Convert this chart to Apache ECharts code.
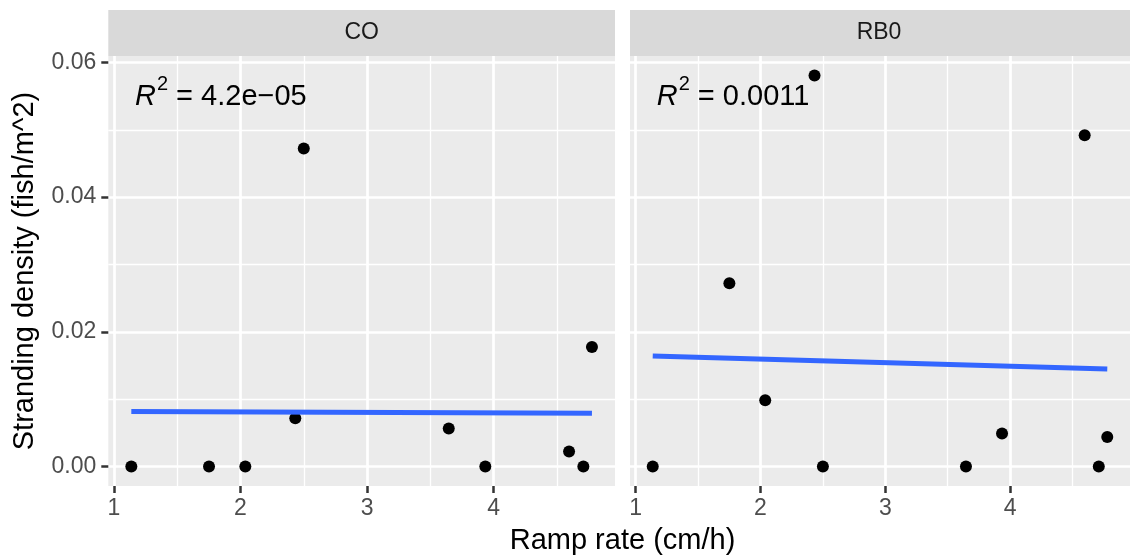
<!DOCTYPE html>
<html>
<head>
<meta charset="utf-8">
<script src="https://cdn.jsdelivr.net/npm/echarts@6/dist/echarts.min.js"></script>
<style>
  html, body { margin: 0; padding: 0; background: #ffffff; }
  #chart { width: 1130px; height: 557px; }
</style>
</head>
<body>
<div id="chart"></div>
<script>
// Ramp rate of each flow event (cm/h); the same events are shown for both sites
const rampRate = [1.137, 1.751, 2.038, 2.433, 2.500, 3.646, 3.935, 4.597, 4.710, 4.778];

// Stranding density (fish/m^2) per site
const densityCO  = [0, 0, 0, 0.00717, 0.04724, 0.00564, 0, 0.00223, 0, 0.01775];
const densityRB0 = [0, 0.0272, 0.00984, 0.05806, 0, 0, 0.0049, 0.0492, 0, 0.00439];

// Linear fit end points for each site
const fitCO  = [[1.137, 0.00815], [4.778, 0.00790]];
const fitRB0 = [[1.137, 0.01641], [4.778, 0.01448]];

// Facet names and fit statistics
const sites = ['CO', 'RB0'];
const r2Text = ['4.2e\u221205', '0.0011'];

// Axis breaks
const xTicks = [1, 2, 3, 4];
const xMinor = [1.5, 2.5, 3.5, 4.5];
const yTicks = [0, 0.02, 0.04, 0.06];
const yMinor = [0.01, 0.03, 0.05];

const FONT = "'Liberation Sans', Arial, Helvetica, sans-serif";

// Panel limits: data range widened by 5% on each side
function expand(values) {
  const lo = Math.min(...values), hi = Math.max(...values);
  const pad = (hi - lo) * 0.05;
  return [lo - pad, hi + pad];
}
const xLim = expand(rampRate);
const yLim = expand(densityCO.concat(densityRB0));

const densities = [densityCO, densityRB0];
const fits = [fitCO, fitRB0];

// Panel geometry (pixels)
const panelLeft = [108.3, 630];
const panelTop = 56;
const panelW = 506.7;
const panelH = 430;
const stripTop = 10;
const stripTextX = [361.7, 879];

const grids = [], xAxes = [], yAxes = [], series = [], graphics = [];

sites.forEach((site, i) => {
  grids.push({
    left: panelLeft[i], top: panelTop, width: panelW, height: panelH,
    show: true, backgroundColor: '#ebebeb', borderWidth: 0
  });

  // major x axis: ticks, labels, major grid lines
  xAxes.push({
    type: 'value', gridIndex: i, min: xLim[0], max: xLim[1], position: 'bottom',
    axisLine: { show: false, onZero: false },
    axisTick: { show: true, length: 7, customValues: xTicks,
                lineStyle: { color: '#333333', width: 2.5 } },
    axisLabel: { show: true, customValues: xTicks, margin: 11,
                 fontSize: 23, color: '#4d4d4d', fontFamily: FONT },
    splitLine: { show: true, lineStyle: { color: '#ffffff', width: 2.7 } }
  });
  // minor x grid lines
  xAxes.push({
    type: 'value', gridIndex: i, min: xLim[0], max: xLim[1], position: 'bottom',
    axisLine: { show: false, onZero: false },
    axisTick: { show: false, customValues: xMinor },
    axisLabel: { show: false },
    splitLine: { show: true, lineStyle: { color: '#ffffff', width: 1.35 } }
  });

  // major y axis
  yAxes.push({
    type: 'value', gridIndex: i, min: yLim[0], max: yLim[1], position: 'left',
    axisLine: { show: false, onZero: false },
    axisTick: { show: i === 0, length: 7, customValues: yTicks,
                lineStyle: { color: '#333333', width: 2.5 } },
    axisLabel: { show: i === 0, customValues: yTicks, margin: 12,
                 fontSize: 23, color: '#4d4d4d', fontFamily: FONT,
                 formatter: v => v.toFixed(2) },
    splitLine: { show: true, lineStyle: { color: '#ffffff', width: 2.7 } }
  });
  // minor y grid lines
  yAxes.push({
    type: 'value', gridIndex: i, min: yLim[0], max: yLim[1], position: 'left',
    axisLine: { show: false, onZero: false },
    axisTick: { show: false, customValues: yMinor },
    axisLabel: { show: false },
    splitLine: { show: true, lineStyle: { color: '#ffffff', width: 1.35 } }
  });

  series.push({
    type: 'scatter', xAxisIndex: 2 * i, yAxisIndex: 2 * i,
    data: rampRate.map((x, k) => [x, densities[i][k]]),
    symbol: 'circle', symbolSize: 12,
    itemStyle: { color: '#000000', opacity: 1 }, z: 3, silent: true
  });
  series.push({
    type: 'line', xAxisIndex: 2 * i, yAxisIndex: 2 * i,
    data: fits[i], showSymbol: false, symbol: 'none',
    lineStyle: { color: '#3366FF', width: 5, cap: 'butt', opacity: 1 }, z: 4, silent: true
  });

  // facet strip
  graphics.push({
    type: 'rect', z: 1,
    shape: { x: panelLeft[i], y: stripTop, width: panelW, height: panelTop - stripTop },
    style: { fill: '#d9d9d9' }
  });
  graphics.push({
    type: 'text', z: 10, x: stripTextX[i], y: 33,
    style: { text: site, fontSize: 23, fontFamily: FONT, fill: '#1a1a1a',
             align: 'center', verticalAlign: 'middle' }
  });

  // R squared of the fit
  graphics.push({
    type: 'text', z: 10, x: panelLeft[i] + 26.7, y: 97,
    style: {
      text: '{i|R}{s|2}{n| = ' + r2Text[i] + '}',
      align: 'left', verticalAlign: 'middle',
      rich: {
        i: { fontSize: 29, fontStyle: 'italic', fontFamily: FONT, fill: '#000000' },
        s: { fontSize: 20, fontFamily: FONT, fill: '#000000', padding: [0, 0, 26, 1] },
        n: { fontSize: 29, fontFamily: FONT, fill: '#000000' }
      }
    }
  });
});

// axis titles
graphics.push({
  type: 'text', z: 10, x: 622.5, y: 541,
  style: { text: 'Ramp rate (cm/h)', fontSize: 29, fontFamily: FONT, fill: '#000000',
           align: 'center', verticalAlign: 'middle' }
});
graphics.push({
  type: 'text', z: 10, x: 25, y: 271, rotation: Math.PI / 2,
  style: { text: 'Stranding density (fish/m^2)', fontSize: 29, fontFamily: FONT, fill: '#000000',
           align: 'center', verticalAlign: 'middle' }
});

const chart = echarts.init(document.getElementById('chart'), null, { renderer: 'canvas' });
chart.setOption({
  animation: false,
  backgroundColor: '#ffffff',
  textStyle: { fontFamily: FONT },
  grid: grids,
  xAxis: xAxes,
  yAxis: yAxes,
  series: series,
  graphic: graphics
});
</script>
</body>
</html>
